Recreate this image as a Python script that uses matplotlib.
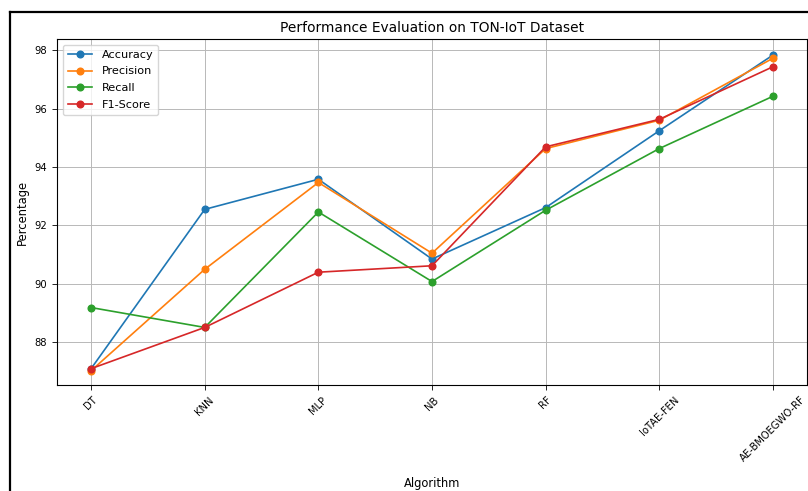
import numpy as np
import matplotlib
matplotlib.use("Agg")
import matplotlib.pyplot as plt
from matplotlib.lines import Line2D

# values
algorithms = ['DT', 'KNN', 'MLP', 'NB', 'RF', 'IoTAE-FEN', 'AE-BMOEGWO-RF']
accuracy = [87.10, 92.55, 93.58, 90.85, 92.61, 95.24, 97.83]
precision = [87.03, 90.50, 93.47, 91.05, 94.63, 95.60, 97.72]
recall = [89.19, 88.51, 92.46, 90.08, 92.52, 94.63, 96.42]
f1_score = [87.10, 88.51, 90.40, 90.62, 94.69, 95.63, 97.43]

series = [('Accuracy', accuracy), ('Precision', precision),
          ('Recall', recall), ('F1-Score', f1_score)]

W, H = 808, 491
fig = plt.figure(figsize=(W / 100, H / 100), dpi=100)
ax = fig.add_axes([57 / W, 1 - 385 / H, (807 - 57) / W, (385 - 39) / H])

for name, vals in series:
    ax.plot(algorithms, vals, marker='o', markersize=4.8, linewidth=1.2, label=name)

ax.set_title('Performance Evaluation on TON-IoT Dataset', fontsize=9.9, pad=5)
ax.set_xlabel('Algorithm', fontsize=8.3)
ax.set_ylabel('Percentage', fontsize=8.3)
ax.xaxis.set_label_coords(0.5, -(477 - 385) / 346)
ax.yaxis.set_label_coords(-(57 - 29) / 750, 0.5)
ax.tick_params(labelsize=7.2, length=3.5, width=0.6)
plt.setp(ax.get_xticklabels(), rotation=45)
ax.set_yticks([88, 90, 92, 94, 96, 98])
ax.set_ylim(86.54, 98.38)
ax.grid(True, linewidth=0.7, color='#b8b8b8')
for s in ax.spines.values():
    s.set_linewidth(0.8)
ax.legend(loc='upper left', fontsize=8.1, handlelength=2.2, labelspacing=0.6,
          borderpad=0.45, framealpha=0.8)

# black frame of the screenshot, cut off on the right and bottom
fig.add_artist(Line2D([9.5 / W, 9.5 / W], [0, 1 - 12 / H], color='black',
                      linewidth=1.6, transform=fig.transFigure))
fig.add_artist(Line2D([9.5 / W, 1], [1 - 12 / H, 1 - 12 / H], color='black',
                      linewidth=1.6, transform=fig.transFigure))

fig.savefig('out.png', dpi=100)
